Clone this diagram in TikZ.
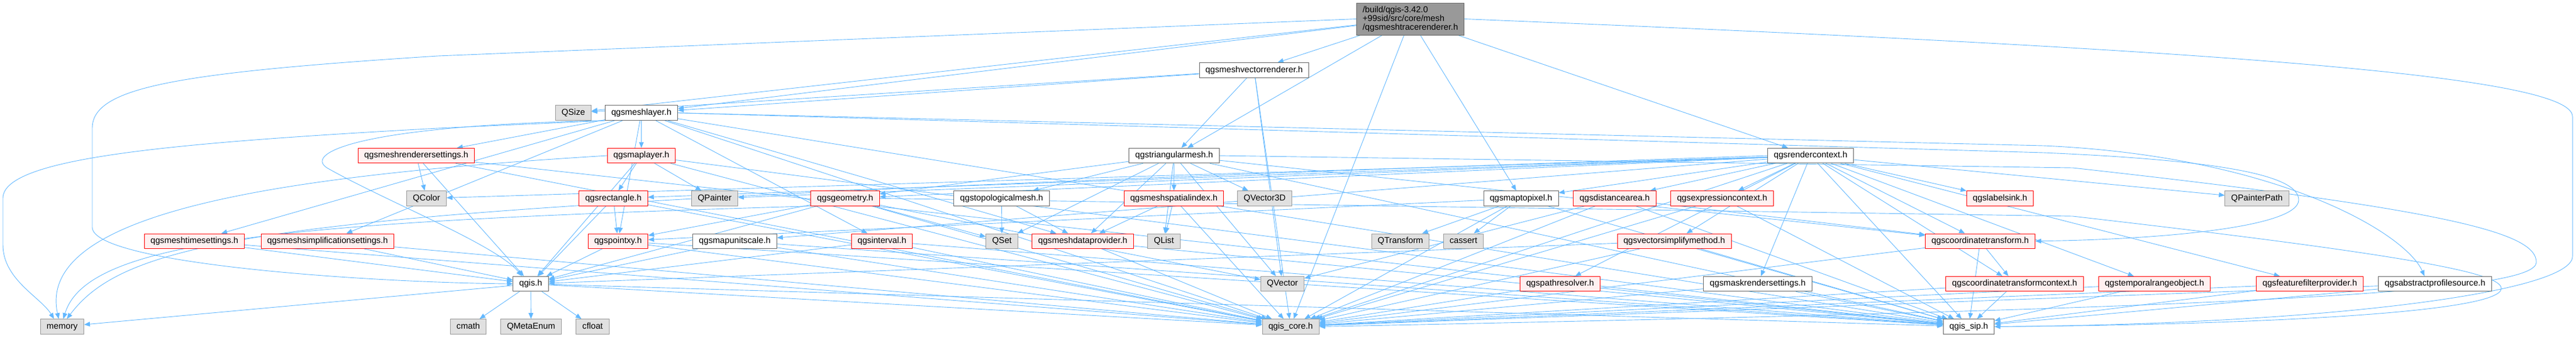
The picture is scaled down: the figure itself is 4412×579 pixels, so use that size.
\documentclass[tikz,border=0pt]{standalone}
\usepackage{fontspec}
\setmainfont{Liberation Sans}
\usetikzlibrary{arrows.meta}
\definecolor{linkblue}{HTML}{63B8FF}
\definecolor{boxgray}{HTML}{666666}
\definecolor{extgray}{HTML}{999999}
\definecolor{extfill}{HTML}{E0E0E0}
\definecolor{redfill}{HTML}{FFF0F0}
\pgfdeclarelayer{bg}
\pgfsetlayers{bg,main}
\begin{document}
\begin{tikzpicture}[x=1pt,y=-1pt,declare function={rowy(\r)=47+73.35*\r;},
	font=\fontsize{14.7}{14.8}\selectfont,
	filebox/.style={line width=1pt,inner xsep=10.5pt,inner ysep=0pt,minimum height=25.5pt,text height=10.8pt,text depth=3.2pt},
	hdr/.style={filebox,draw=boxgray,fill=white},
	hdrred/.style={filebox,draw=red,fill=redfill},
	sys/.style={filebox,draw=extgray,fill=extfill},
	rootbox/.style={line width=1pt,draw=boxgray,fill=extgray,inner xsep=10.5pt,inner ysep=4pt,minimum height=55pt,align=left},
	incl/.style={draw=linkblue,line width=0.9pt,-{Triangle[length=10pt,width=8pt]}}]
	\useasboundingbox (0,0) rectangle (4412,579);
	\node[rootbox] (tr) at (2415.5,32.5) {/build/qgis-3.42.0\\+99sid/src/core/mesh\\/qgsmeshtracerenderer.h};
	\foreach \n/\x/\r/\s/\t in {mvr/2148/1/hdr/qgsmeshvectorrenderer.h,
		qsize/982/2/sys/QSize, ml/1098.5/2/hdr/qgsmeshlayer.h,
		mrs/713/3/hdrred/qgsmeshrenderersettings.h, mapl/1098.5/3/hdrred/qgsmaplayer.h,
		tm/2011/3/hdr/qgstriangularmesh.h, rc/3101/3/hdr/qgsrendercontext.h,
		qcolor/730.5/4/sys/QColor, rect/1050.5/4/hdrred/qgsrectangle.h,
		qpainter/1224/4/sys/QPainter, geom/1447.5/4/hdrred/qgsgeometry.h,
		topo/1715.5/4/hdr/qgstopologicalmesh.h, msi/2010.5/4/hdrred/qgsmeshspatialindex.h,
		qv3d/2166/4/sys/QVector3D, m2p/2605/4/hdr/qgsmaptopixel.h,
		da/2765.5/4/hdrred/qgsdistancearea.h, ec/2949.5/4/hdrred/qgsexpressioncontext.h,
		ls/3425.5/4/hdrred/qgslabelsink.h, qpp/3865.5/4/sys/QPainterPath,
		mts/333/5/hdrred/qgsmeshtimesettings.h, mss/561/5/hdrred/qgsmeshsimplificationsettings.h,
		pxy/1058.5/5/hdrred/qgspointxy.h, mus/1258.5/5/hdr/qgsmapunitscale.h,
		intv/1510.5/5/hdrred/qgsinterval.h, qset/1716/5/sys/QSet,
		mdp/1854.5/5/hdrred/qgsmeshdataprovider.h, qlist/1993.5/5/sys/QList,
		qtr/2398.5/5/sys/QTransform, cassert/2506.5/5/sys/cassert,
		vsm/2867.5/5/hdrred/qgsvectorsimplifymethod.h, ct/3391.5/5/hdrred/qgscoordinatetransform.h,
		qgis/909/6/hdr/qgis.h, qvec/2196.5/6/sys/QVector,
		pr/2672/6/hdrred/qgspathresolver.h, mrset/3010.5/6/hdr/qgsmaskrendersettings.h,
		ctc/3450.5/6/hdrred/qgscoordinatetransformcontext.h, tro/3690/6/hdrred/qgstemporalrangeobject.h,
		ffp/3956/6/hdrred/qgsfeaturefilterprovider.h, aps/4170.5/6/hdr/qgsabstractprofilesource.h,
		memory/106.5/7/sys/memory, cmath/802/7/sys/cmath, qme/909.5/7/sys/QMetaEnum,
		cfloat/1015/7/sys/cfloat, core/2210.5/7/sys/qgis\_core.h, sip/3372/7/hdr/qgis\_sip.h}{
		\node[\s] (\n) at ({\x},{rowy(\r)}) {\t};
	}
	\begin{pgfonlayer}{bg}
		\foreach \s/\tl in {tr/{mvr,qsize,ml,tm,core,m2p,rc},
			mvr/{tm,qvec,core,ml,qsize},
			ml/{mapl,mrs,mts,mss,pxy,mdp,intv,core,sip},
			mrs/{qcolor,core,sip,qgis},
			mapl/{rect,qpainter,qgis,core,sip},
			tm/{topo,msi,qv3d,qset,mdp,qlist,geom,ct,sip,qvec},
			rc/{qcolor,qpainter,qpp,core,sip,ct,ec,ffp,m2p,mus,rect,vsm,da,ctc,pr,tro,ls,mrset,geom},
			rect/{pxy,qgis,core}, geom/{pxy,qset,core,qgis,qvec}, topo/{qset,mdp},
			msi/{mdp,qlist,core}, m2p/{qtr,cassert,pxy,core,sip}, da/{ct,core,sip,qvec},
			ec/{core,sip}, mts/{core,qgis}, mss/{core,qgis}, pxy/{qgis,core,sip},
			mus/{qgis,core,sip}, intv/{qgis,core,sip}, mdp/{core,sip}, vsm/{qgis,core,sip},
			ct/{ctc,core,sip}, ctc/{core,sip}, pr/{core,sip}, mrset/{core,sip},
			tro/{core,sip}, ffp/{core,sip}, aps/{core,sip},
			qgis/{cmath,qme,cfloat,memory,core,sip}}{
			\foreach \t in \tl {\draw[incl] (\s) -- (\t);}
		}
		% long ways round
		\draw[incl] (tr.west) -- (750,96) .. controls (300,125) and (158,150) .. (158,220) -- (158,390)
			.. controls (158,450) and (600,484) .. (qgis.west);
		\draw[incl] (tr.east) .. controls (3800,85) and (4406,130) .. (4406,200) -- (4406,440)
			.. controls (4406,500) and (4000,556) .. (sip.east);
		\draw[incl] (ml.south west) -- (750,220) .. controls (300,245) and (5,270) .. (5,340) -- (5,420)
			.. controls (5,480) and (70,510) .. ([xshift=-14pt]memory.north);
		\draw[incl] (ml.south west) .. controls (620,215) and (520,262) .. (560,288)
			.. controls (660,345) and (850,420) .. ([xshift=-15pt]qgis.north);
		\draw[incl] (ml.east) -- (3500,250) .. controls (3900,268) and (4120,400) .. ([xshift=-18pt]aps.north);
		\draw[incl] (ml.east) -- (3500,262) .. controls (3800,275) and (3937,300) .. (3937,343)
			.. controls (3937,390) and (3700,411) .. (ct.east);
		\draw[incl] (tm.east) -- (3550,288) .. controls (4200,360) and (4344,400) .. (4344,450)
			.. controls (4344,500) and (3900,528) .. (core.east);
		\draw[incl] (geom.east) -- (3550,371) .. controls (4150,440) and (4284,470) .. (4284,495)
			.. controls (4284,540) and (3800,558) .. (sip.east);
		\draw[incl] (mapl.west) .. controls (500,300) and (60,360) .. ([xshift=-6pt]memory.north);
		\draw[incl] (geom.south west) .. controls (500,380) and (150,410) .. ([xshift=2pt]memory.north);
		\draw[incl] (rc.west) .. controls (600,350) and (240,380) .. ([xshift=8pt]memory.north);
	\end{pgfonlayer}
\end{tikzpicture}
\end{document}
